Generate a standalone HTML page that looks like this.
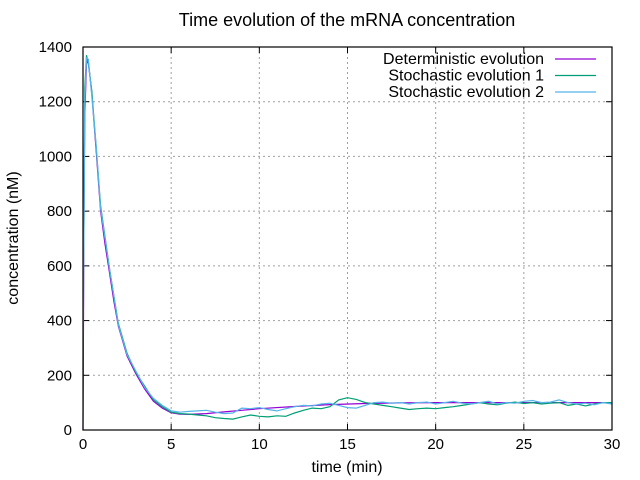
<!DOCTYPE html>
<html><head><meta charset="utf-8"><style>
body{margin:0;background:#fff;}
svg{display:block;font-family:"Liberation Sans",sans-serif;}
</style></head><body>
<svg id="chart" width="640" height="480">
<text x="347" y="26" font-size="18" text-anchor="middle">Time evolution of the mRNA concentration</text>
<g id="grid"></g>
<g id="ticks"></g>
<g id="series"></g>
<rect x="83" y="47" width="529" height="383" fill="none" stroke="#000" stroke-width="1.2"/>
<text x="347" y="472" font-size="16" text-anchor="middle">time (min)</text>
<text transform="translate(18,238) rotate(-90)" font-size="16" text-anchor="middle">concentration (nM)</text>
<g id="legend"></g>
</svg>
<script>
const xTicks=[0,5,10,15,20,25,30];
const yTicks=[0,200,400,600,800,1000,1200,1400];
const detT=[0,0.05,0.1,0.2,0.3,0.5,0.75,1,1.25,1.5,1.75,2,2.5,3,3.5,4,4.5,5,5.5,6,7,8,9,10,12,14,16,18,20,25,30];
const detV=[0,740,1150,1340,1350,1230,1020,800,680,575,470,380,270,205,150,105,80,63,58,57,60,66,72,78,86,93,97,99,100,100,100];
const stochT=[0,0.05,0.1,0.2,0.3,0.5,0.75,1,1.5,2,2.5,3,3.5,4,4.5,5,5.5,6,6.5,7,7.5,8,8.5,9,9.5,10,10.5,11,11.5,12,12.5,13,13.5,14,14.5,15,15.5,16,16.5,17,17.5,18,18.5,19,19.5,20,20.5,21,21.5,22,22.5,23,23.5,24,24.5,25,25.5,26,26.5,27,27.5,28,28.5,29,29.5,30];
const stoch1V=[730,730,1250,1370,1340,1240,1030,820,590,390,280,210,160,110,85,65,60,58,55,52,45,42,40,48,55,50,48,52,50,62,72,80,78,85,110,118,112,100,95,90,85,80,75,78,80,78,82,85,90,95,100,95,92,98,102,97,100,95,98,100,90,95,88,95,100,100];
const stoch2V=[220,700,1200,1360,1355,1220,1040,810,590,385,275,215,155,115,90,70,65,68,70,72,65,60,62,80,78,82,75,70,78,85,90,88,95,98,90,82,80,90,100,102,98,100,95,100,102,95,100,105,98,95,100,105,95,100,98,105,108,100,102,110,100,95,98,92,100,95];
const legendNames=["Deterministic evolution","Stochastic evolution 1","Stochastic evolution 2"];
const colors=["#9400d3","#009e73","#56b4e9"];
const NS="http://www.w3.org/2000/svg";
const X=t=>83+t/30*529, Y=v=>430-v/1400*383;
function mk(tag,attrs,parent){const e=document.createElementNS(NS,tag);for(const k in attrs)e.setAttribute(k,attrs[k]);parent.appendChild(e);return e;}
const grid=document.getElementById('grid'),ticks=document.getElementById('ticks'),ser=document.getElementById('series'),leg=document.getElementById('legend');
xTicks.forEach(t=>{
  if(t>0&&t<30){const l=mk('line',{x1:X(t),x2:X(t),y1:47,y2:430,stroke:'#a0a0a0','stroke-dasharray':'2,3'},grid);
  
  }
  mk('line',{x1:X(t),x2:X(t),y1:430,y2:424,stroke:'#000'},ticks);
  mk('line',{x1:X(t),x2:X(t),y1:47,y2:53,stroke:'#000'},ticks);
  const tx=mk('text',{x:X(t),y:449,'font-size':15,'text-anchor':'middle'},ticks);tx.textContent=t;
  
  
});
yTicks.forEach(v=>{
  if(v>0&&v<1400){const l=mk('line',{x1:83,x2:612,y1:Y(v),y2:Y(v),stroke:'#a0a0a0','stroke-dasharray':'2,3'},grid);
  
  }
  mk('line',{x1:83,x2:89,y1:Y(v),y2:Y(v),stroke:'#000'},ticks);
  mk('line',{x1:612,x2:606,y1:Y(v),y2:Y(v),stroke:'#000'},ticks);
  const tx=mk('text',{x:72,y:Y(v)+5,'font-size':15,'text-anchor':'end'},ticks);tx.textContent=v;
  
  
});
const data=[[detT,detV],[stochT,stoch1V],[stochT,stoch2V]];
data.forEach((d,i)=>{
  const pts=d[0].map((t,j)=>X(t).toFixed(1)+','+Y(d[1][j]).toFixed(1)).join(' ');
  const p=mk('polyline',{points:pts,fill:'none',stroke:colors[i],'stroke-width':1.2},ser);
  
  
  const ly=59+i*16.5;
  const lt=mk('text',{x:544,y:ly+5,'font-size':16,'text-anchor':'end'},leg);lt.textContent=legendNames[i];
  
  
  const ll=mk('line',{x1:555,x2:596,y1:ly,y2:ly,stroke:colors[i],'stroke-width':1.2},leg);
  
  
});
</script>
</body></html>
